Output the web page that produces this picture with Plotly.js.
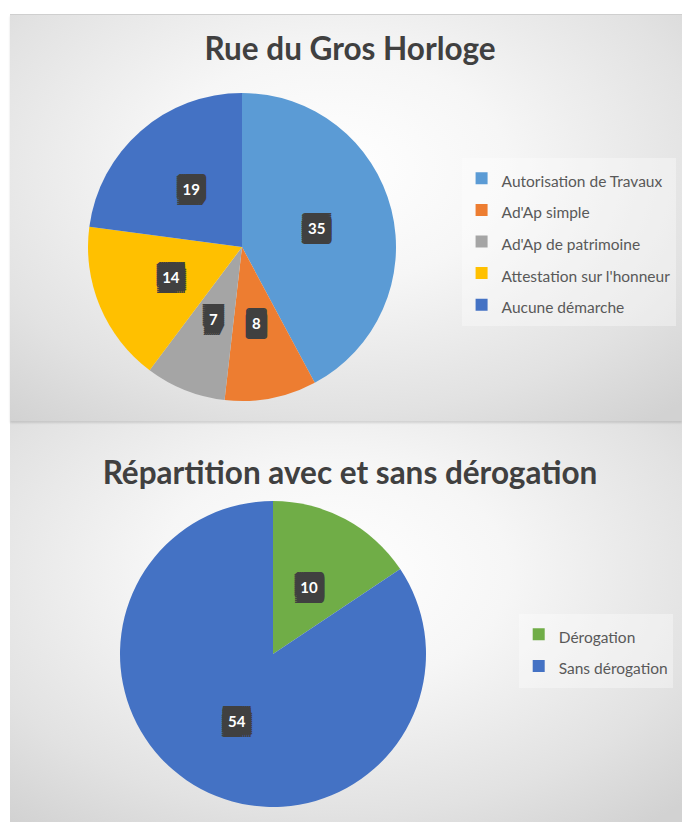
<!DOCTYPE html>
<html>
<head>
<meta charset="utf-8">
<script src="https://cdn.plot.ly/plotly-3.0.1.min.js"></script>
<style>
  html, body { margin:0; padding:0; background:#ffffff; width:682px; height:822px; overflow:hidden; }
  .panel { position:absolute; left:10px; width:672px;
    background: radial-gradient(ellipse 75% 80% at 48% 38%, #ffffff 0%, #f6f6f6 35%, #e2e2e2 75%, #d2d2d2 100%); }
  #p1 { top:14px; height:406px; border-top:1px solid #cfcfcf; box-shadow: 0 2px 2px rgba(0,0,0,0.12); z-index:2; }
  #p2 { top:420px; height:402px; }
</style>
</head>
<body>
<div id="p1" class="panel"></div>
<div id="p2" class="panel"></div>
<script>
// ---- Data ----
const title1 = "Rue du Gros Horloge";
const labels1 = ["Autorisation de Travaux", "Ad'Ap simple", "Ad'Ap de patrimoine", "Attestation sur l'honneur", "Aucune démarche"];
const values1 = [35, 8, 7, 14, 19];
const colors1 = ["#5B9BD5", "#ED7D31", "#A5A5A5", "#FFC000", "#4472C4"];

const title2 = "Répartition avec et sans dérogation";
const labels2 = ["Dérogation", "Sans dérogation"];
const values2 = [10, 54];
const colors2 = ["#70AD47", "#4472C4"];

// ---- Styling helpers ----
const FONT = "Lato, 'Open Sans', sans-serif";
function boxShadow() {
  const parts = [];
  for (let x = -7; x <= 7; x += 2) {
    for (let y = -10; y <= 10; y += 2) {
      parts.push(x + "px " + y + "px 0 #404040");
    }
  }
  return parts.join(", ");
}
const labelFont = { family: FONT, size: 15, color: "#ffffff", weight: "bold", shadow: boxShadow() };
const legendLabel = l => '<span style="font-size:15.5px">' + l + '</span>';

function domainFor(cx, cy, r, W, H) {
  return { x: [(cx - r) / W, (cx + r) / W], y: [(H - cy - r) / H, (H - cy + r) / H] };
}

// main pie (slices + legend) and one transparent label layer per slice so each
// value label sits at about half the radius, as in the original chart
function buildPie(labels, values, colors, cx, cy, R, W, H) {
  const traces = [{
    type: "pie", labels: labels.map(legendLabel), values: values,
    sort: false, direction: "clockwise", rotation: 0,
    marker: { colors: colors, line: { width: 0 } },
    textinfo: "none", hoverinfo: "none",
    domain: domainFor(cx, cy, R, W, H)
  }];
  const total = values.reduce((a, b) => a + b, 0);
  values.forEach((v, i) => {
    const half = Math.PI * v / total;
    const rIns = half >= Math.PI / 2 ? 0.5 : Math.min(Math.sin(half) / (1 + Math.sin(half)), 0.5);
    const rCenter = 1 - rIns;
    const Ri = Math.min(R, 0.5 * R / rCenter);
    traces.push({
      type: "pie", labels: labels.map(legendLabel), values: values,
      sort: false, direction: "clockwise", rotation: 0, showlegend: false,
      marker: { colors: values.map(() => "rgba(0,0,0,0)"), line: { width: 0 } },
      text: values.map((w, j) => j === i ? String(w) : ""),
      textinfo: "text", textposition: "inside", insidetextorientation: "horizontal",
      insidetextfont: labelFont, hoverinfo: "none",
      domain: domainFor(cx, cy, Ri, W, H)
    });
  });
  return traces;
}

const W = 672, H1 = 406, H2 = 402;
const layout1 = {
  width: W, height: H1,
  margin: { l: 0, r: 0, t: 0, b: 0 },
  paper_bgcolor: "rgba(0,0,0,0)",
  title: { text: "<b>" + title1 + "</b>", x: 0.506, xanchor: "center", y: 1 - 34/H1, yanchor: "middle", yref: "container",
           font: { family: FONT, size: 31.5, color: "#404040" } },
  showlegend: true,
  legend: { x: 0.672, y: 1 - 142.5/H1, xanchor: "left", yanchor: "top", bgcolor: "rgba(255,255,255,0.35)",
            font: { family: FONT, size: 22, color: "#595959" }, traceorder: "normal", itemclick: false }
};
const layout2 = {
  width: W, height: H2,
  margin: { l: 0, r: 0, t: 0, b: 0 },
  paper_bgcolor: "rgba(0,0,0,0)",
  title: { text: "<b>" + title2 + "</b>", x: 0.506, xanchor: "center", y: 1 - 53/H2, yanchor: "middle", yref: "container",
           font: { family: FONT, size: 31.5, color: "#404040" } },
  showlegend: true,
  legend: { x: 0.757, y: 1 - 193.5/H2, xanchor: "left", yanchor: "top", bgcolor: "rgba(255,255,255,0.35)",
            font: { family: FONT, size: 22, color: "#595959" }, traceorder: "normal", itemclick: false }
};

Plotly.newPlot("p1", buildPie(labels1, values1, colors1, 232, 232, 154, W, H1), layout1, { staticPlot: true });
Plotly.newPlot("p2", buildPie(labels2, values2, colors2, 263, 234, 153, W, H2), layout2, { staticPlot: true });
</script>
</body>
</html>
